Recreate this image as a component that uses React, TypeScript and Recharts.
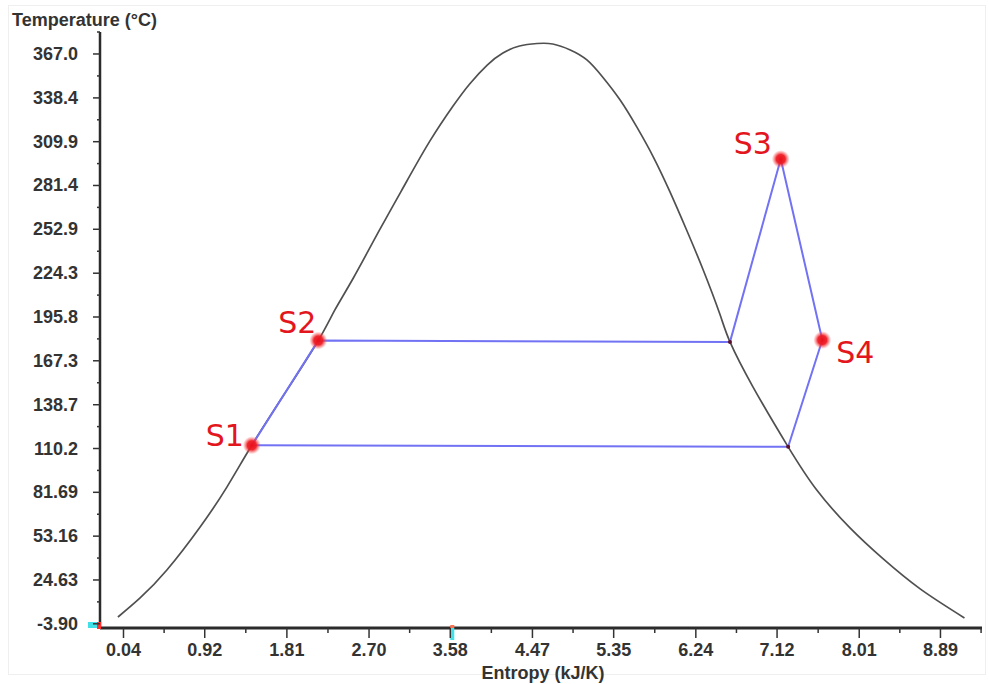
import React from 'react';
import { ComposedChart, Line, Scatter, XAxis, YAxis, ReferenceDot } from 'recharts';

// saturation dome, entropy (kJ/K) vs temperature (°C)
const domeS = [-0.02, 0.22, 0.51, 0.87, 1.16, 1.43, 1.79, 2.15, 2.33, 2.53, 2.82, 3.11, 3.36, 3.61, 3.79, 3.98, 4.15, 4.33, 4.52, 4.69, 4.88, 5.06, 5.23, 5.42, 5.6, 5.78, 5.96, 6.14, 6.32, 6.5, 6.61, 6.86, 7.24, 7.55, 7.91, 8.27, 8.67, 9.15];
const domeT = [0.5, 12.9, 31.1, 59.1, 85.1, 112.3, 146.3, 180.5, 200.4, 221.2, 253.1, 284.3, 310.4, 333.1, 347.5, 359.8, 367.6, 372.2, 373.8, 373.5, 369.6, 363.1, 352.0, 337.0, 319.5, 299.9, 277.2, 252.4, 226.4, 197.7, 179.6, 150.2, 111.3, 83.2, 58.5, 38.3, 18.8, -0.1];

// cycle states
const stateNames = ['S1', 'S2', 'S3', 'S4'];
const stateS = [1.43, 2.15, 7.16, 7.61];
const stateT = [112.3, 180.5, 298.6, 180.8];

// where the cycle meets the vapour line
const junctionS = [6.61, 7.24];
const junctionT = [179.6, 111.3];

const xTicks = [0.04, 0.92, 1.81, 2.7, 3.58, 4.47, 5.35, 6.24, 7.12, 8.01, 8.89];
const xTickLabels = ['0.04', '0.92', '1.81', '2.70', '3.58', '4.47', '5.35', '6.24', '7.12', '8.01', '8.89'];
const yTicks = [-3.9, 24.63, 53.16, 81.69, 110.2, 138.7, 167.3, 195.8, 224.3, 252.9, 281.4, 309.9, 338.4, 367.0];
const yTickLabels = ['-3.90', '24.63', '53.16', '81.69', '110.2', '138.7', '167.3', '195.8', '224.3', '252.9', '281.4', '309.9', '338.4', '367.0'];

const xDomain = [-0.2145, 9.34];
const yDomain = [-6.63, 381.3];

const dome = domeS.map((s, i) => ({ s, t: domeT[i] }));
const states = stateNames.map((name, i) => ({ name, s: stateS[i], t: stateT[i] }));
const junctions = junctionS.map((s, i) => ({ s, t: junctionT[i] }));
const cycle = [states[0], states[1], junctions[0], states[2], states[3], junctions[1], states[0]].map((p) => ({ s: p.s, t: p.t }));

// minor ticks halfway between the labelled ones
const withMinor = (ticks: number[], max: number) => {
  const out: number[] = [];
  ticks.forEach((v, i) => {
    out.push(v);
    const step = i < ticks.length - 1 ? ticks[i + 1] - v : v - ticks[i - 1];
    const mid = v + step / 2;
    if (mid <= max) out.push(+mid.toFixed(4));
  });
  return out;
};
const xAllTicks = withMinor(xTicks, xDomain[1]);
const yAllTicks = withMinor(yTicks, yDomain[1]);

const FONT = '"Liberation Sans", Arial, sans-serif';
const INK = '#333';
const labelOffset: Record<string, [number, number]> = { S1: [-27, -10], S2: [-21, -19], S3: [-28, -16], S4: [33, 12] };

const YTick = (props: any) => {
  const { x, y, payload } = props;
  const idx = yTicks.indexOf(payload.value);
  if (idx < 0) return <line x1={x - 3} x2={x} y1={y} y2={y} stroke={INK} strokeWidth={1.5} />;
  return (
    <g>
      <line x1={x - 7} x2={x} y1={y} y2={y} stroke={INK} strokeWidth={1.5} />
      <text x={x - 22} y={y + 6} textAnchor="end" fontFamily={FONT} fontWeight="bold" fontSize={18} fill={INK}>
        {yTickLabels[idx]}
      </text>
    </g>
  );
};

const XTick = (props: any) => {
  const { x, y, payload } = props;
  const idx = xTicks.indexOf(payload.value);
  if (idx < 0) return <line x1={x} x2={x} y1={y} y2={y + 5} stroke={INK} strokeWidth={1.5} />;
  return (
    <g>
      <line x1={x} x2={x} y1={y} y2={y + 10} stroke={INK} strokeWidth={1.5} />
      <text x={x} y={y + 28} textAnchor="middle" fontFamily={FONT} fontWeight="bold" fontSize={18} fill={INK}>
        {xTickLabels[idx]}
      </text>
    </g>
  );
};

const StateDot = (props: any) => {
  const { cx, cy, payload } = props;
  const [dx, dy] = labelOffset[payload.name];
  return (
    <g>
      <circle cx={cx} cy={cy} r={9} fill="url(#glow)" />
      <text x={cx + dx} y={cy + dy + 11} textAnchor="middle" fontFamily='"DejaVu Sans", sans-serif' fontSize={30} fill="#e3161e">
        {payload.name}
      </text>
    </g>
  );
};

const JunctionDot = (props: any) => <circle cx={props.cx} cy={props.cy} r={2} fill="#5a0f2a" />;

const CornerMarker = (props: any) => (
  <g>
    <rect x={props.cx - 12} y={props.cy - 6} width={9} height={6} fill="#3fe0e8" />
    <rect x={props.cx - 3} y={props.cy - 6} width={4} height={7} fill="#ff3030" />
  </g>
);

const AxisMarker = (props: any) => (
  <g>
    <rect x={props.cx} y={props.cy - 3} width={4} height={3} fill="#ff7050" />
    <rect x={props.cx} y={props.cy} width={4} height={12} fill="#3fe0e8" />
  </g>
);

export default function App() {
  return (
    <div style={{ position: 'absolute', left: 0, top: 0, width: 989, height: 684, background: '#fff', overflow: 'hidden' }}>
      <div style={{ position: 'absolute', left: 8, top: 5, width: 976, height: 668, border: '1px solid #efefef' }} />
      <ComposedChart width={989} height={684} margin={{ top: 32, right: 7, bottom: 0, left: 0 }}>
        <defs>
          <radialGradient id="glow">
            <stop offset="0%" stopColor="#e8101a" stopOpacity={1} />
            <stop offset="50%" stopColor="#ee1c24" stopOpacity={0.95} />
            <stop offset="100%" stopColor="#ff5a5a" stopOpacity={0} />
          </radialGradient>
        </defs>
        <XAxis
          type="number"
          dataKey="s"
          domain={xDomain}
          ticks={xAllTicks}
          interval={0}
          allowDataOverflow
          height={56}
          tickSize={0}
          tickMargin={0}
          tick={<XTick />}
          axisLine={{ stroke: '#2b2b2b', strokeWidth: 3 }}
        />
        <YAxis
          type="number"
          dataKey="t"
          domain={yDomain}
          ticks={yAllTicks}
          interval={0}
          allowDataOverflow
          width={100}
          tickSize={0}
          tickMargin={0}
          tick={<YTick />}
          axisLine={{ stroke: '#2b2b2b', strokeWidth: 2.5 }}
        />
        <Line data={dome} dataKey="t" type="natural" stroke="#505050" strokeWidth={1.7} dot={false} activeDot={false} isAnimationActive={false} />
        <Line data={cycle} dataKey="t" type="linear" stroke="#7272f4" strokeWidth={2} dot={false} activeDot={false} isAnimationActive={false} />
        <Scatter data={junctions} shape={<JunctionDot />} isAnimationActive={false} />
        <Scatter data={states} shape={<StateDot />} isAnimationActive={false} />
        <ReferenceDot x={xDomain[0]} y={yDomain[0]} ifOverflow="visible" shape={<CornerMarker />} />
        <ReferenceDot x={3.58} y={yDomain[0]} ifOverflow="visible" shape={<AxisMarker />} />
      </ComposedChart>
      <div style={{ position: 'absolute', left: 12, top: 12, lineHeight: '17px', fontFamily: FONT, fontWeight: 'bold', fontSize: 18, color: INK, whiteSpace: 'nowrap' }}>
        Temperature (°C)
      </div>
      <div style={{ position: 'absolute', left: 443, width: 200, top: 665, lineHeight: '17px', textAlign: 'center', fontFamily: FONT, fontWeight: 'bold', fontSize: 18, color: INK, whiteSpace: 'nowrap' }}>
        Entropy (kJ/K)
      </div>
    </div>
  );
}
